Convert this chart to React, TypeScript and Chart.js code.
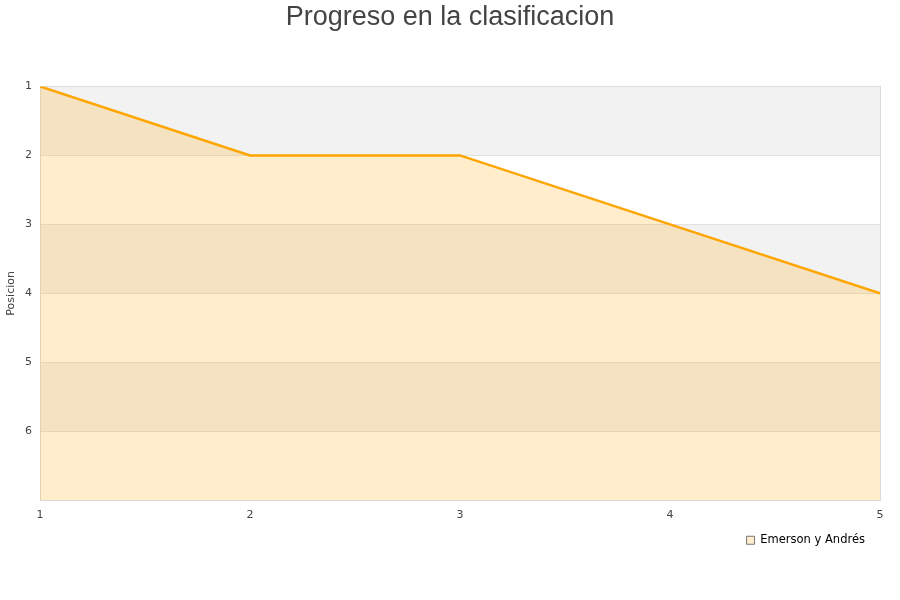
import React, { useEffect, useRef } from "react";
import { Chart, registerables } from "chart.js";

Chart.register(...registerables);

const titleText = "Progreso en la clasificacion";
const seriesName = "Emerson y Andrés";
const jornadas = [1, 2, 3, 4, 5];
const posiciones = [1, 2, 2, 3, 4];
const yTicks = [1, 2, 3, 4, 5, 6];
const bandRanges: [number, number][] = [[1, 2], [3, 4], [5, 6]];

const bandsPlugin = {
  id: "bands",
  afterLayout(chart: any) {
    const lg = chart.legend;
    if (lg) {
      lg.top -= 5;
      lg.bottom -= 5;
      lg.right -= 25;
    }
  },
  beforeDatasetsDraw(chart: any) {
    const { ctx, chartArea, scales } = chart;
    const y = scales.y;
    ctx.save();
    ctx.fillStyle = "#f2f2f2";
    bandRanges.forEach(([a, b]) => {
      const y1 = y.getPixelForValue(a);
      const y2 = y.getPixelForValue(b);
      ctx.fillRect(chartArea.left, Math.min(y1, y2), chartArea.right - chartArea.left, Math.abs(y2 - y1));
    });
    ctx.strokeStyle = "#e2e2e2";
    ctx.lineWidth = 1;
    yTicks.slice(1).forEach((v) => {
      const py = Math.round(y.getPixelForValue(v)) + 0.5;
      ctx.beginPath();
      ctx.moveTo(chartArea.left, py);
      ctx.lineTo(chartArea.right, py);
      ctx.stroke();
    });
    ctx.strokeStyle = "#dcdcdc";
    ctx.strokeRect(Math.round(chartArea.left) + 0.5, Math.round(chartArea.top) + 0.5, Math.round(chartArea.right - chartArea.left), Math.round(chartArea.bottom - chartArea.top));
    ctx.restore();
  },
};

export default function App() {
  const ref = useRef<HTMLCanvasElement>(null);
  useEffect(() => {
    if (!ref.current) return;
    const chart = new Chart(ref.current, {
      type: "line",
      data: {
        datasets: [
          {
            label: seriesName,
            data: jornadas.map((x, i) => ({ x, y: posiciones[i] })),
            borderColor: "#ffa500",
            backgroundColor: "rgba(255,165,0,0.2)",
            borderWidth: 2.5,
            pointRadius: 0,
            fill: { value: 7 },
            tension: 0,
          },
        ],
      },
      options: {
        animation: false,
        responsive: false,
        layout: { padding: { left: 0, right: 0, top: 0, bottom: 39 } },
        plugins: {
          title: {
            display: true,
            text: titleText,
            color: "#444",
            font: { family: "'Liberation Sans', Arial, sans-serif", size: 27, weight: "normal" },
            padding: { top: 1, bottom: 53 },
          },
          legend: {
            position: "bottom",
            align: "end",
            labels: {
              boxWidth: 8,
              boxHeight: 8,
              padding: 10,
              color: "#111",
              font: { family: "'DejaVu Sans', sans-serif", size: 11.5 },
              generateLabels: () => [
                {
                  text: seriesName,
                  fillStyle: "#ffedcc",
                  strokeStyle: "#777",
                  lineWidth: 1,
                  datasetIndex: 0,
                },
              ],
            },
          },
          tooltip: { enabled: false },
        },
        scales: {
          x: {
            type: "linear",
            min: 1,
            max: 5,
            grid: { display: false, drawTicks: false },
            border: { display: false },
            ticks: {
              stepSize: 1,
              color: "#444",
              padding: 8,
              font: { family: "'DejaVu Sans', sans-serif", size: 11 },
            },
          },
          y: {
            reverse: true,
            min: 1,
            max: 7,
            grid: { display: false, drawTicks: false },
            border: { display: false },
            afterFit: (s: any) => { s.width = 40; },
            afterBuildTicks: (s: any) => { s.ticks = yTicks.map((v) => ({ value: v })); },
            title: {
              display: true,
              text: "Posicion",
              color: "#444",
              font: { family: "'DejaVu Sans', sans-serif", size: 11 },
              padding: { top: 5, bottom: 0 },
            },
            ticks: {
              color: "#444",
              padding: 8,
              font: { family: "'DejaVu Sans', sans-serif", size: 11 },
            },
          },
          y2: {
            position: "right",
            display: true,
            min: 0,
            max: 1,
            grid: { display: false, drawTicks: false },
            border: { display: false },
            ticks: { display: false },
            afterFit: (s: any) => { s.width = 20; },
          },
        },
      },
      plugins: [bandsPlugin],
    });
    return () => chart.destroy();
  }, []);
  return (
    <div style={{ position: "absolute", left: 0, top: 0, width: 900, height: 600, background: "#fff" }}>
      <canvas ref={ref} width={900} height={600} />
    </div>
  );
}
